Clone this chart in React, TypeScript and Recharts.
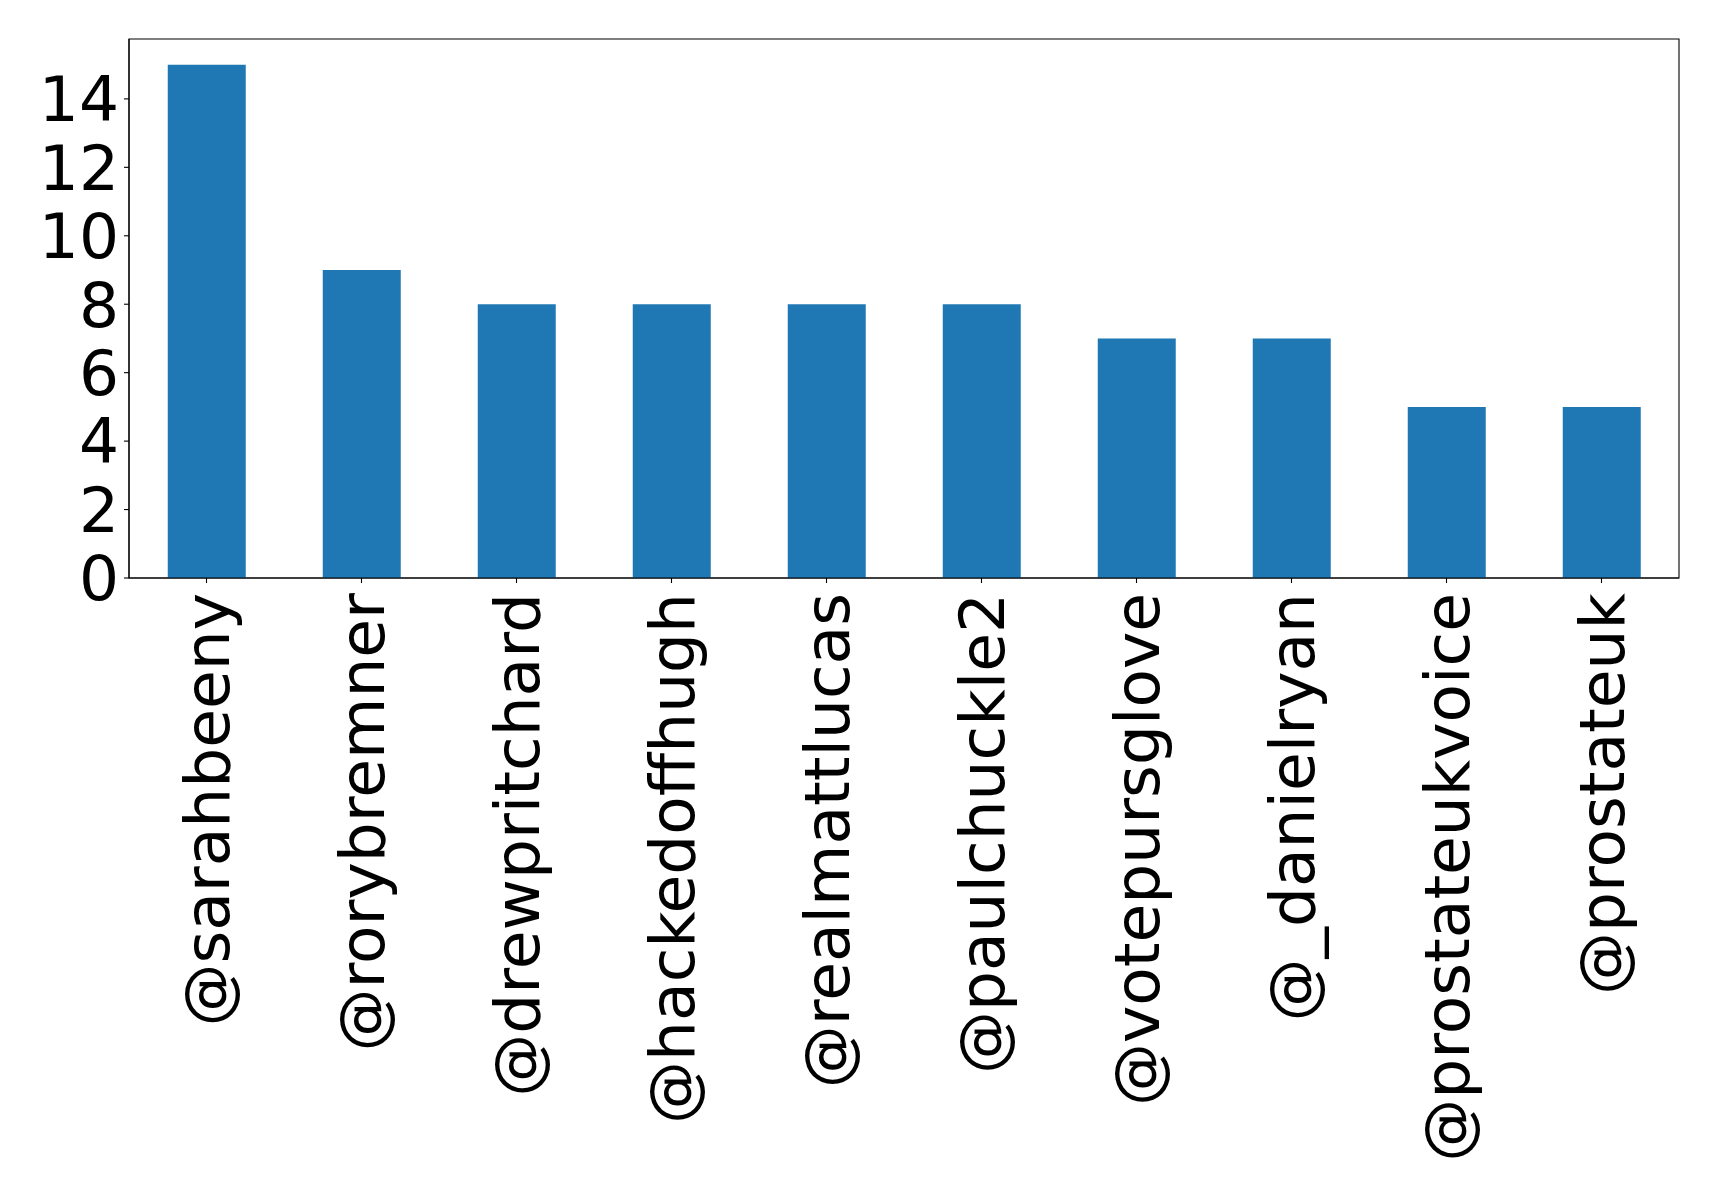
import React from 'react';
import { BarChart, Bar, XAxis, YAxis, ReferenceArea } from 'recharts';

const handles = [
  '@sarahbeeny',
  '@rorybremner',
  '@drewpritchard',
  '@hackedoffhugh',
  '@realmattlucas',
  '@paulchuckle2',
  '@votepursglove',
  '@_danielryan',
  '@prostateukvoice',
  '@prostateuk',
];
const counts = [15, 9, 8, 8, 8, 8, 7, 7, 5, 5];
const yTicks = [0, 2, 4, 6, 8, 10, 12, 14];
const yMax = 15.75;

const FONT = '"DejaVu Sans", sans-serif';

const data = handles.map((name, i) => ({ name, count: counts[i] }));

// rotated category label, reads bottom-to-top like the original
function HandleTick(props: any) {
  const { x, y, payload } = props;
  return (
    <g transform={`translate(${x},${y})`}>
      <text
        transform="rotate(-90)"
        x={-8}
        y={0}
        dy="0.35em"
        textAnchor="end"
        fill="#000"
        fontSize={63}
        fontFamily={FONT}
      >
        {payload.value}
      </text>
    </g>
  );
}

export default function App() {
  return (
    <div style={{ position: 'absolute', left: 0, top: 0, background: '#fff' }}>
      <BarChart
        width={1719}
        height={1192}
        data={data}
        margin={{ top: 39, right: 40, bottom: 0, left: 0 }}
        barCategoryGap="25%"
      >
        <XAxis
          dataKey="name"
          interval={0}
          height={614}
          tick={<HandleTick />}
          tickSize={5}
          tickMargin={2}
          axisLine={{ stroke: '#000', strokeWidth: 1.1 }}
          tickLine={{ stroke: '#000', strokeWidth: 1.1 }}
        />
        <YAxis
          width={129}
          domain={[0, yMax]}
          ticks={yTicks}
          interval={0}
          tickSize={5}
          tickMargin={5}
          axisLine={{ stroke: '#000', strokeWidth: 1.1 }}
          tickLine={{ stroke: '#000', strokeWidth: 1.1 }}
          tick={{ fill: '#000', fontSize: 63, fontFamily: FONT }}
        />
        <Bar dataKey="count" fill="#1f77b4" isAnimationActive={false} />
        {/* box around the plot area */}
        <ReferenceArea
          x1={handles[0]}
          x2={handles[handles.length - 1]}
          y1={0}
          y2={yMax}
          fill="none"
          fillOpacity={0}
          stroke="#000"
          strokeWidth={1.1}
          strokeOpacity={1}
        />
      </BarChart>
    </div>
  );
}
